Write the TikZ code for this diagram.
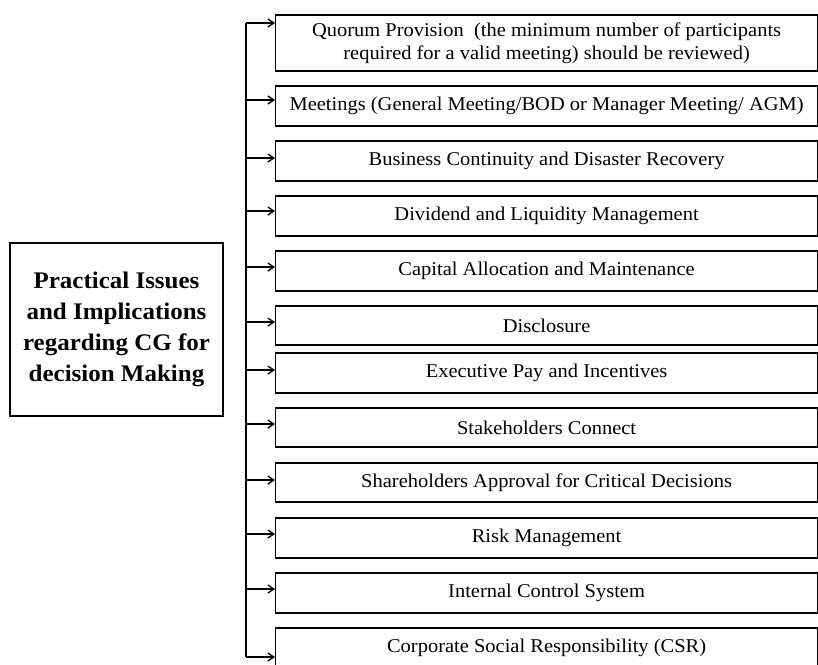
\documentclass[tikz,border=0pt]{standalone}
\usepackage{fontspec}
\setmainfont[FakeStretch=1.05]{Liberation Serif}
\usetikzlibrary{arrows.meta}
\begin{document}
\begin{tikzpicture}[x=1pt,y=-1pt,
  item/.style={draw, line width=1.2pt, minimum width=542pt, inner sep=0pt, align=center,
     font=\fontsize{19.5}{23}\selectfont, anchor=west},
  mainbox/.style={draw, line width=1.2pt, minimum width=213pt, minimum height=173pt, align=center,
     font=\bfseries\fontsize{23.8}{31}\selectfont},
  arr/.style={line width=1.2pt, -{Straight Barb[length=6pt,width=8pt,line width=1.3pt]}},
  bus/.style={line width=1.2pt}]
\useasboundingbox (0,0) rectangle (818,664);
\node[mainbox] (main) at (116.5,329.5) {Practical Issues\\and Implications\\regarding CG for\\decision Making};
\node[item, minimum height=56pt] (b1) at (275,43) {Quorum Provision\ \ (the minimum number of participants\\required for a valid meeting) should be reviewed)};
\node[item, minimum height=40pt] (b2) at (275,106) {Meetings (General Meeting/BOD or Manager Meeting/ AGM)};
\node[item, minimum height=40pt] (b3) at (275,161) {Business Continuity and Disaster Recovery};
\node[item, minimum height=40pt] (b4) at (275,216) {Dividend and Liquidity Management};
\node[item, minimum height=40pt] (b5) at (275,271) {Capital Allocation and Maintenance};
\node[item, minimum height=39pt] (b6) at (275,325.5) {Disclosure};
\node[item, minimum height=40pt] (b7) at (275,373) {Executive Pay and Incentives};
\node[item, minimum height=39pt] (b8) at (275,427.5) {Stakeholders Connect};
\node[item, minimum height=39pt] (b9) at (275,482.5) {Shareholders Approval for Critical Decisions};
\node[item, minimum height=40pt] (b10) at (275,538) {Risk Management};
\node[item, minimum height=40pt] (b11) at (275,593) {Internal Control System};
\node[item, minimum height=40pt] (b12) at (275,648) {Corporate Social Responsibility (CSR)};
\coordinate (a1) at (246,23);
\coordinate (a2) at (246,100);
\coordinate (a3) at (246,158);
\coordinate (a4) at (246,211);
\coordinate (a5) at (246,267);
\coordinate (a6) at (246,322);
\coordinate (a7) at (246,370);
\coordinate (a8) at (246,424);
\coordinate (a9) at (246,480);
\coordinate (a10) at (246,534);
\coordinate (a11) at (246,589);
\coordinate (a12) at (246,657);
\draw[bus] (a1) -- (a12);
\foreach \i in {1,...,12} {\draw[arr] (a\i) -- (a\i -| b\i.west);}
\end{tikzpicture}
\end{document}
